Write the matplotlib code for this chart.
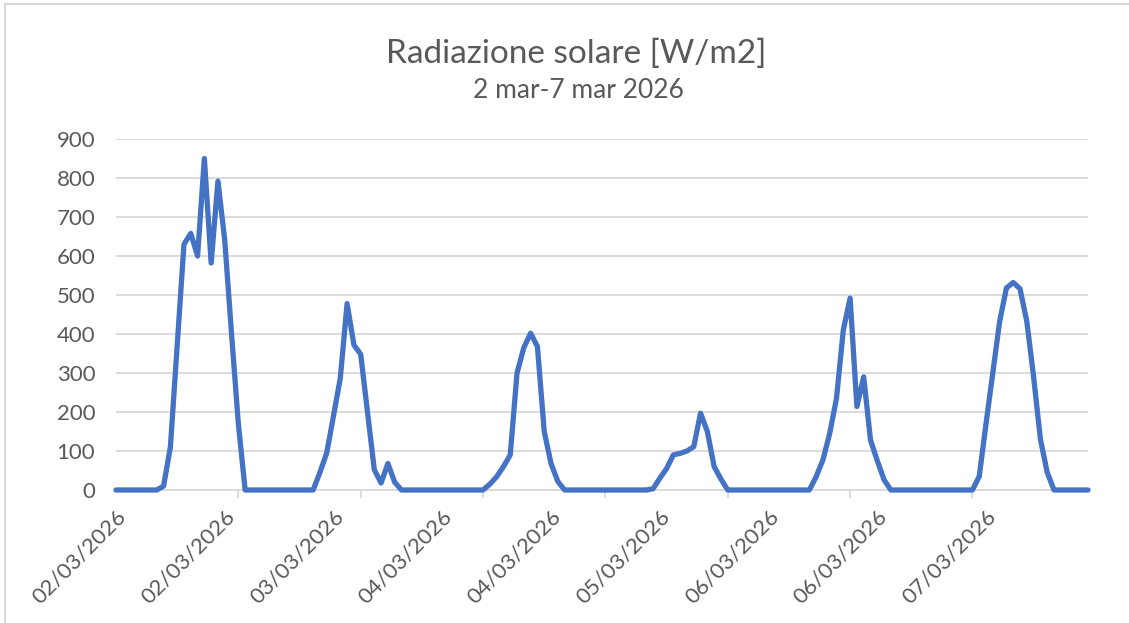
#!/usr/bin/env python3
"""Radiazione solare, 2-7 mar 2026: hourly line in the old Excel look."""

import matplotlib

matplotlib.use("Agg")
import matplotlib.pyplot as plt
import pandas as pd
from matplotlib.lines import Line2D

TITLE = "Radiazione solare [W/m2]"
SUBTITLE = "2 mar-7 mar 2026"

# hourly readings, one row per day (W/m2)
day_02 = [0, 0, 0, 0, 0, 0, 0, 10, 110, 370, 630, 658, 600, 850, 582, 792, 640, 400, 170, 0, 0, 0, 0, 0]
day_03 = [0, 0, 0, 0, 0, 0, 45, 95, 190, 287, 478, 372, 348, 200, 52, 18, 68, 20, 0, 0, 0, 0, 0, 0]
day_04 = [0, 0, 0, 0, 0, 0, 0, 15, 34, 60, 90, 300, 365, 402, 368, 150, 68, 22, 0, 0, 0, 0, 0, 0]
day_05 = [0, 0, 0, 0, 0, 0, 0, 3, 30, 55, 90, 94, 100, 111, 197, 150, 60, 28, 0, 0, 0, 0, 0, 0]
day_06 = [0, 0, 0, 0, 0, 0, 0, 34, 77, 145, 235, 410, 492, 214, 290, 128, 75, 26, 0, 0, 0, 0, 0, 0]
day_07 = [0, 0, 0, 0, 0, 0, 0, 35, 170, 300, 432, 518, 532, 516, 432, 290, 130, 45, 0, 0, 0, 0, 0, 0]

Y_TICKS = [0, 100, 200, 300, 400, 500, 600, 700, 800, 900]
LABEL_EVERY = 16   # excel label interval
TICK_EVERY = 18    # excel tick-mark interval

BLUE = "#4472C4"
GRID = "#D9D9D9"
TEXT = "#595959"

plt.rcParams["font.family"] = ["Lato", "DejaVu Sans"]


def main() -> None:
    values = day_02 + day_03 + day_04 + day_05 + day_06 + day_07
    stamps = pd.date_range("2026-03-02", periods=len(values), freq="h")
    x = list(range(len(values)))

    fig = plt.figure(figsize=(11.29, 6.23), dpi=100)
    ax = fig.add_axes([116 / 1129, 1 - 490 / 623, 972 / 1129, 351 / 623])

    ax.plot(x, values, color=BLUE, linewidth=3.8, solid_joinstyle="round",
            solid_capstyle="round", clip_on=False, zorder=3)

    ax.set_xlim(0, len(values) - 1)
    ax.set_ylim(0, 900)
    ax.set_yticks(Y_TICKS)
    ax.yaxis.grid(True, color=GRID, linewidth=1.3)
    ax.set_axisbelow(True)

    lab_pos = x[::LABEL_EVERY]
    ax.set_xticks(lab_pos)
    ax.set_xticklabels([stamps[i].strftime("%d/%m/%Y") for i in lab_pos],
                       rotation=45, ha="right", rotation_mode="anchor")
    ax.set_xticks(x[::TICK_EVERY], minor=True)
    ax.tick_params(axis="x", which="major", length=0, pad=12, labelsize=16, labelcolor=TEXT)
    ax.tick_params(axis="x", which="minor", length=6, width=1.3, color=GRID)
    ax.tick_params(axis="y", length=0, pad=15, labelsize=16, labelcolor=TEXT)

    for side in ["top", "right", "left"]:
        ax.spines[side].set_visible(False)
    ax.spines["bottom"].set_color(GRID)
    ax.spines["bottom"].set_linewidth(1.3)

    fig.text(576 / 1129, 1 - 54 / 623, TITLE, ha="center", va="center", fontsize=24, color=TEXT)
    fig.text(578 / 1129, 1 - 90 / 623, SUBTITLE, ha="center", va="center", fontsize=19, color=TEXT)

    # chart frame, only top and left edges are inside the screenshot
    fig.add_artist(Line2D([5 / 1129, 5 / 1129], [0, 1 - 4 / 623], color=GRID, linewidth=1.5))
    fig.add_artist(Line2D([5 / 1129, 1], [1 - 4 / 623, 1 - 4 / 623], color=GRID, linewidth=1.5))

    fig.savefig("out.png", dpi=100)
    plt.close(fig)


if __name__ == "__main__":
    main()
